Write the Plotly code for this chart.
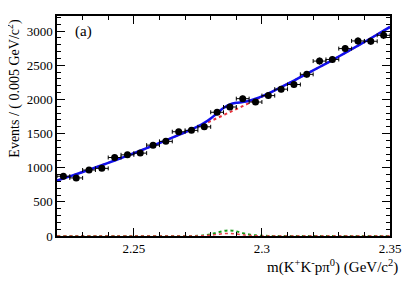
import plotly.graph_objects as go

# ---- data ----
bin_centers = [2.2225 + 0.005 * i for i in range(26)]
events = [875, 850, 966, 990, 1149, 1188, 1213, 1330, 1385, 1526, 1546, 1598, 1811,
          1888, 2010, 1961, 2055, 2149, 2217, 2366, 2560, 2584, 2743, 2855, 2850, 2937]
event_err = [30, 29, 31, 31, 34, 34, 35, 36, 37, 39, 39, 40, 43, 43, 45, 44, 45, 46,
             47, 49, 51, 51, 52, 53, 53, 54]

# total fit (blue)
fit_x = [2.220, 2.225, 2.230, 2.235, 2.240, 2.245, 2.250, 2.255, 2.260, 2.265,
         2.2700, 2.2725, 2.2750, 2.2775, 2.2800, 2.2825, 2.2850, 2.2875, 2.2900,
         2.2925, 2.2950, 2.2975, 2.3000, 2.3025, 2.3050,
         2.310, 2.315, 2.320, 2.325, 2.330, 2.335, 2.340, 2.345, 2.350]
fit_total = [810, 872, 936, 1002, 1070, 1140, 1211, 1285, 1361, 1439,
             1518, 1560, 1604, 1656, 1720, 1797, 1873, 1925, 1949,
             1960, 1979, 2009, 2045, 2087, 2132,
             2226, 2324, 2423, 2524, 2627, 2733, 2840, 2949, 3060]
# smooth background (red dotted)
bkg_total = [810, 872, 936, 1002, 1070, 1140, 1211, 1285, 1361, 1439,
             1518, 1559, 1600, 1641, 1683, 1726, 1769, 1813, 1857,
             1901, 1946, 1992, 2037, 2084, 2131,
             2226, 2324, 2423, 2524, 2627, 2733, 2840, 2949, 3060]
# signal (green dotted) and peaking component (red dotted) near zero
sig_x = [2.220, 2.250, 2.2700, 2.2725, 2.2750, 2.2775, 2.2800, 2.2825, 2.2850, 2.2875,
         2.2900, 2.2925, 2.2950, 2.2975, 2.3000, 2.3025, 2.3050, 2.330, 2.350]
signal = [0, 0, 0, 1, 3, 10, 25, 50, 73, 82, 68, 42, 22, 10, 4, 1, 0, 0, 0]
peaking = [0, 0, 0, 0, 1, 5, 12, 24, 34, 38, 30, 17, 8, 3, 1, 0, 0, 0, 0]

x_ticks = [2.25, 2.3, 2.35]
x_tick_labels = ["2.25", "2.3", "2.35"]
y_ticks = [0, 500, 1000, 1500, 2000, 2500, 3000]

FONT = "Liberation Serif, Times New Roman, serif"

fig = go.Figure()
fig.add_trace(go.Scatter(x=sig_x, y=signal, mode="lines", line_shape="spline",
                         line=dict(color="#1a9a1a", width=2, dash="dot")))
fig.add_trace(go.Scatter(x=sig_x, y=peaking, mode="lines", line_shape="spline",
                         line=dict(color="#e8404a", width=1.5, dash="dot")))
fig.add_trace(go.Scatter(x=fit_x, y=bkg_total, mode="lines", line_shape="spline",
                         line=dict(color="#e8303a", width=2, dash="dot")))
fig.add_trace(go.Scatter(x=fit_x, y=fit_total, mode="lines", line_shape="spline",
                         line=dict(color="#1010ee", width=2.5, smoothing=0.8)))
fig.add_trace(go.Scatter(
    x=bin_centers, y=events, mode="markers",
    marker=dict(color="black", size=7),
    error_x=dict(type="constant", value=0.0025, color="black", thickness=1, width=2),
    error_y=dict(type="data", array=event_err, color="black", thickness=1, width=0),
))

axis_common = dict(
    showgrid=False, zeroline=False, showline=True, linecolor="black", linewidth=1.5,
    mirror="allticks", ticks="inside", tickcolor="black",
    tickfont=dict(family=FONT, size=13, color="black"),
)
fig.update_xaxes(range=[2.22, 2.35], tickvals=x_ticks, ticktext=x_tick_labels,
                 ticklen=8, tickwidth=1,
                 minor=dict(dtick=0.01, tick0=2.22, ticks="inside", ticklen=4,
                            tickcolor="black", tickwidth=1),
                 **axis_common)
fig.update_yaxes(range=[0, 3220], tickvals=y_ticks, ticklen=8, tickwidth=1,
                 minor=dict(dtick=100, ticks="inside", ticklen=4,
                            tickcolor="black", tickwidth=1),
                 **axis_common)

# page body has an 8px margin, so the figure is offset by 8px
fig.update_layout(
    width=403, height=273, showlegend=False,
    margin=dict(l=49, r=21, t=6, b=45),
    plot_bgcolor="white", paper_bgcolor="white",
    font=dict(family=FONT, color="black"),
    annotations=[
        dict(text="m(K<sup>+</sup>K<sup>-</sup>pπ<sup>0</sup>) (GeV/c<sup>2</sup>)",
             xref="paper", yref="paper", x=1.03, y=-0.14, xanchor="right",
             yanchor="middle", showarrow=False, font=dict(family=FONT, size=15)),
        dict(text="Events / ( 0.005 GeV/c<sup>2</sup>)", textangle=-90,
             xref="paper", yref="paper", x=-0.129, y=0.995, xanchor="center",
             yanchor="top", showarrow=False, font=dict(family=FONT, size=14)),
        dict(text="(a)", xref="x", yref="y", x=2.2262, y=3000, xanchor="left",
             yanchor="middle", showarrow=False, font=dict(family=FONT, size=15)),
    ],
)

fig.write_html("out.html")
